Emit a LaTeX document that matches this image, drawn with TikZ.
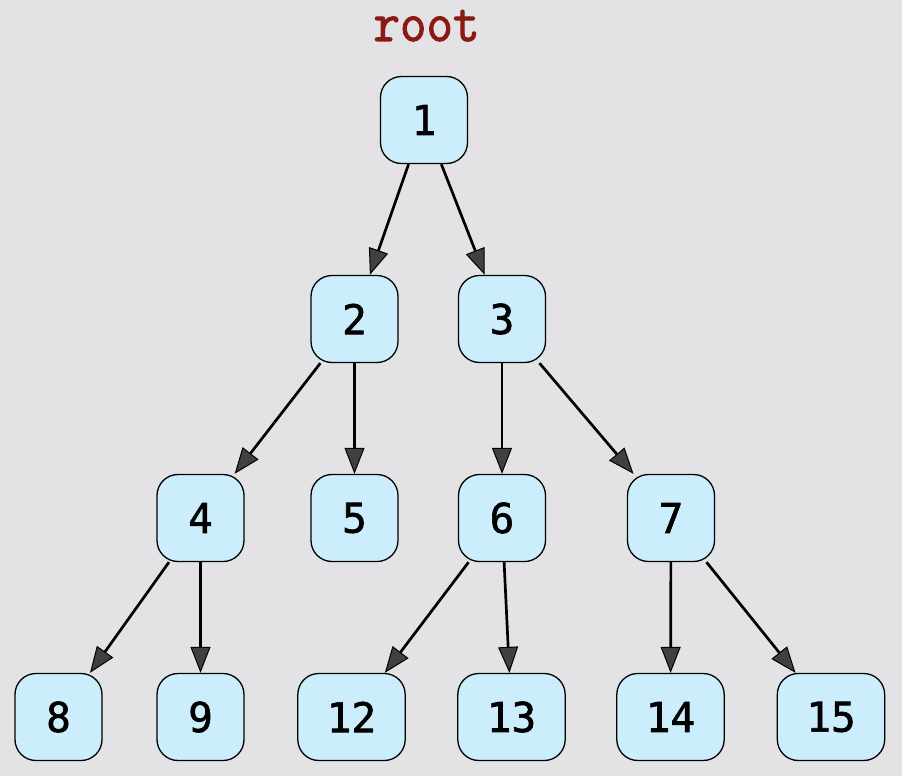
\documentclass[tikz,border=0pt]{standalone}
\usepackage{fontspec}
\newfontfamily\nodefont[FakeBold=1.6]{DejaVu Sans Mono}
\newfontfamily\rootfont[FakeBold=1.8,FakeStretch=0.92]{Latin Modern Mono}
\usetikzlibrary{arrows.meta}
\definecolor{bg}{RGB}{227,227,229}
\definecolor{nodefill}{RGB}{204,238,252}
\definecolor{tipfill}{RGB}{64,64,64}
\definecolor{rootred}{RGB}{140,26,20}
\begin{document}
\begin{tikzpicture}[x=1pt,y=-1pt,
  treenode/.style={draw=black, line width=1.3pt, fill=nodefill,
    rounded corners=21pt, minimum width=87pt, minimum height=87pt,
    inner xsep=29pt, inner ysep=0pt,
    font=\nodefont\fontsize{41}{41}\selectfont},
  link/.style={line width=2.7pt, draw=black,
    -{Triangle[length=26pt,width=20pt,fill=tipfill,line width=1pt]}}]

% canvas
\fill[bg] (0,0) rectangle (902,776);
\useasboundingbox (0,0) rectangle (902,776);

% title
\node[anchor=base, text=rootred, inner sep=0pt, text height=34pt, text depth=0pt,
  font=\rootfont\fontsize{56}{56}\selectfont] (title) at (426.5,41) {root};

% tree nodes
\node[treenode] (n1)  at (424,120) {1};
\node[treenode] (n2)  at (354.5,319) {2};
\node[treenode] (n3)  at (502,319) {3};
\node[treenode] (n4)  at (200.5,518) {4};
\node[treenode] (n5)  at (354.5,518) {5};
\node[treenode] (n6)  at (502,518) {6};
\node[treenode] (n7)  at (671,518) {7};
\node[treenode] (n8)  at (58.5,717) {8};
\node[treenode] (n9)  at (200.5,717) {9};
\node[treenode] (n12) at (351.5,717) {12};
\node[treenode] (n13) at (511.5,717) {13};
\node[treenode] (n14) at (670.5,717) {14};
\node[treenode] (n15) at (831,717) {15};

% edges
\draw[link] (n1) -- (n2);
\draw[link] (n1) -- (n3);
\draw[link] (n2) -- (n4);
\draw[link] (n2) -- (n5);
\draw[link] (n3) -- (n6);
\draw[link] (n3) -- (n7);
\draw[link] (n4) -- (n8);
\draw[link] (n4) -- (n9);
\draw[link] (n6) -- (n12);
\draw[link] (n6) -- (n13);
\draw[link] (n7) -- (n14);
\draw[link] (n7) -- (n15);
\end{tikzpicture}
\end{document}
